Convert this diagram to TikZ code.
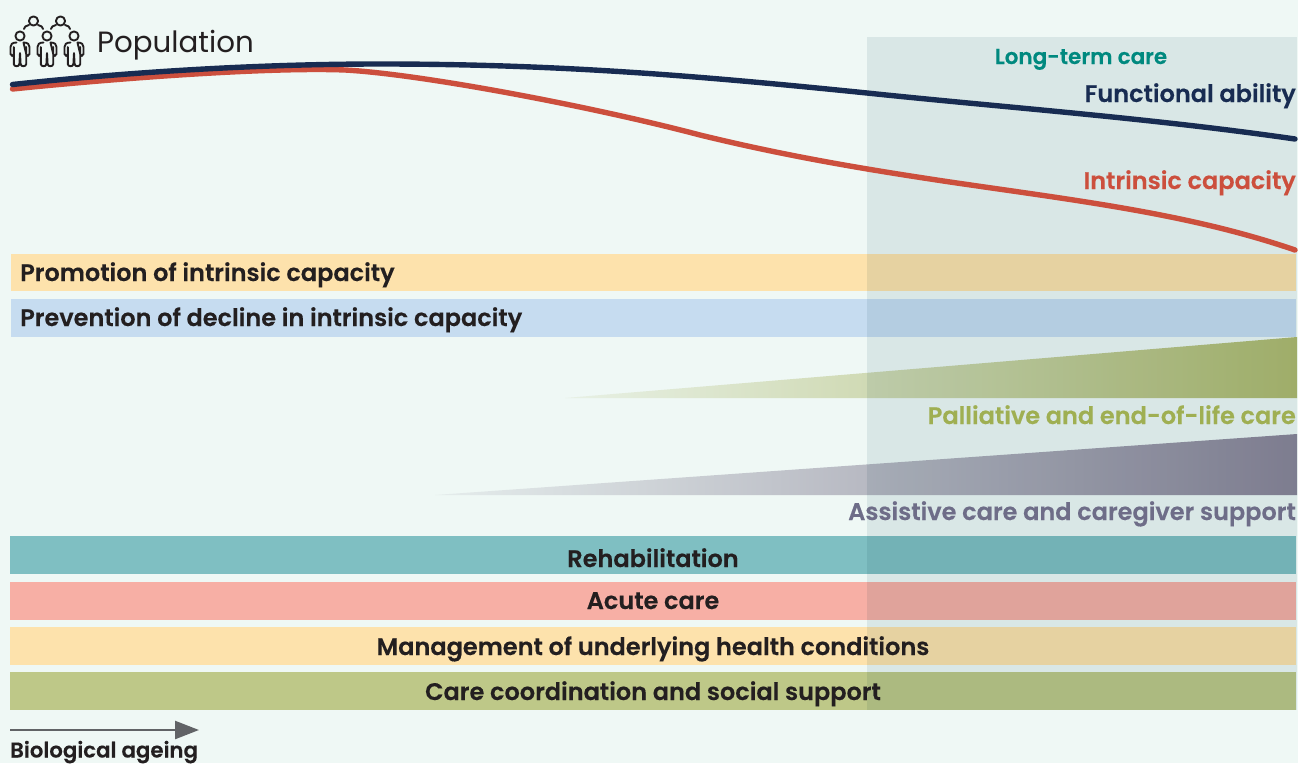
\documentclass[tikz,border=0pt]{standalone}
\usepackage{fontspec}
\setmainfont[BoldFont={Poppins SemiBold},BoldFeatures={FakeBold=0.25}]{Poppins}
\usetikzlibrary{arrows.meta}
\definecolor{bgc}{HTML}{EFF8F5}
\definecolor{navy}{HTML}{182C52}
\definecolor{redc}{HTML}{CC4F3D}
\definecolor{yel}{HTML}{FDE2AC}
\definecolor{blu}{HTML}{C6DCF0}
\definecolor{tealb}{HTML}{7FBFC2}
\definecolor{salm}{HTML}{F7AFA5}
\definecolor{olive}{HTML}{BEC888}
\definecolor{ink}{HTML}{231F20}
\definecolor{tealt}{HTML}{00897F}
\definecolor{palt}{HTML}{9FAF52}
\definecolor{asst}{HTML}{6E6D88}
\definecolor{palw}{HTML}{AFBA70}
\definecolor{assw}{HTML}{8A8699}
\definecolor{arrowc}{HTML}{616366}
\definecolor{ltc}{HTML}{E8EEF0}
\tikzset{
  x=1pt,y=-1pt,
  barbox/.style={fill=#1,draw=none},
  barlabel/.style={font=\fontsize{24}{28}\selectfont\bfseries,text=ink,inner sep=0pt,anchor=base},
  sidelabel/.style={font=\fontsize{24}{28}\selectfont\bfseries,inner sep=0pt,anchor=base east},
  person/.style={draw=ink,line width=1.9pt,fill=none,line join=round,line cap=round},
}
\newcommand{\oneperson}[2]{%
  \begin{scope}[shift={(#1,#2)}]
    \draw[person] (0,0) circle (4.6);
    \draw[person] (-3.5,6.5) .. controls (-8,6.5) and (-9.5,8.5) .. (-9.5,11) -- (-9.5,18) .. controls (-9.5,20.5) and (-6.2,20.5) .. (-6.2,18) -- (-6.2,11)
      (-6.2,18) -- (-6.2,28) .. controls (-6.2,31) and (-0.6,31) .. (-0.6,28) -- (0,17) -- (0.6,28) .. controls (0.6,31) and (6.2,31) .. (6.2,28) -- (6.2,11)
      (6.2,18) .. controls (6.2,20.5) and (9.5,20.5) .. (9.5,18) -- (9.5,11) .. controls (9.5,8.5) and (8,6.5) .. (3.5,6.5) -- cycle;
  \end{scope}}
\begin{document}
\begin{tikzpicture}
\useasboundingbox (0,0) rectangle (1298,763);
\fill[bgc] (0,0) rectangle (1298,763);
% bars
\fill[barbox=yel] (11,254) rectangle (1296,291);
\fill[barbox=blu] (11,299) rectangle (1296,337);
\fill[barbox=tealb] (10,536) rectangle (1296,574);
\fill[barbox=salm] (10,582) rectangle (1296,620);
\fill[barbox=yel] (10,627) rectangle (1296,665);
\fill[barbox=olive] (10,672) rectangle (1296,710);
% wedges
\begin{scope}
  \clip (565,398) -- (1297,337) -- (1297,398) -- cycle;
  \shade[left color=palw!12!bgc,right color=palw] (565,337) rectangle (1297,398);
\end{scope}
\begin{scope}
  \clip (435,495) -- (1297,434) -- (1297,495) -- cycle;
  \shade[left color=assw!10!bgc,right color=assw] (435,434) rectangle (1297,495);
\end{scope}
% long-term overlay
\begin{scope}[blend mode=multiply]
\fill[ltc] (867,37) rectangle (1297.3,710);
\end{scope}
% curves
\draw[redc,line width=5.4pt,line cap=round] (12.5,89) .. controls (120,78) and (270,67) .. (345,70)
  .. controls (420,74) and (590,106) .. (700,135) .. controls (790,157) and (870,170) .. (950,182)
  .. controls (1080,201) and (1190,214) .. (1295,250);
\draw[navy,line width=5.4pt,line cap=round] (12.5,84.5) .. controls (120,73) and (250,64) .. (380,64)
  .. controls (560,64) and (700,76) .. (867,93) .. controls (1000,107) and (1150,118) .. (1295,139);
% people
\oneperson{20}{36}\oneperson{47}{36}\oneperson{74}{36}
\draw[person] (33.5,21) circle (4.6) (60.5,21) circle (4.6);
\draw[person] (24,29) .. controls (24,27) and (26,25.5) .. (29,25) (38,25) .. controls (41,25.5) and (43,27) .. (43,29);
\draw[person] (51,29) .. controls (51,27) and (53,25.5) .. (56,25) (65,25) .. controls (68,25.5) and (70,27) .. (70,29);
% texts
\node[font=\fontsize{29.3}{34}\selectfont,text=ink,inner sep=0pt,anchor=base west] (pop) at (97,52) {Population};
\node[font=\fontsize{21.5}{25}\selectfont\bfseries,text=tealt,inner sep=0pt,anchor=base] (ltlabel) at (1081,64) {Long-term care};
\node[sidelabel,text=navy] (fa) at (1296,102) {Functional ability};
\node[sidelabel,text=redc] (ic) at (1296,189) {Intrinsic capacity};
\node[barlabel,anchor=base west] (promo) at (20,281) {Promotion of intrinsic capacity};
\node[barlabel,anchor=base west] (prev) at (20,326) {Prevention of decline in intrinsic capacity};
\node[sidelabel,text=palt] (pal) at (1296,424) {Palliative and end-of-life care};
\node[sidelabel,text=asst] (ass) at (1296,520) {Assistive care and caregiver support};
\node[barlabel] (reh) at (653,567) {Rehabilitation};
\node[barlabel] (acu) at (653,609) {Acute care};
\node[barlabel] (man) at (653,655) {Management of underlying health conditions};
\node[barlabel] (car) at (653,700) {Care coordination and social support};
% arrow
\coordinate (a0) at (10,730);
\coordinate (a1) at (199,730);
\draw[arrowc,line width=2.4pt,-{Triangle[length=24pt,width=18pt]}] (a0) -- (a1);
\node[font=\fontsize{21.3}{25}\selectfont\bfseries,text=ink,inner sep=0pt,anchor=base west] (bio) at (10,757.5) {Biological ageing};
\end{tikzpicture}
\end{document}
